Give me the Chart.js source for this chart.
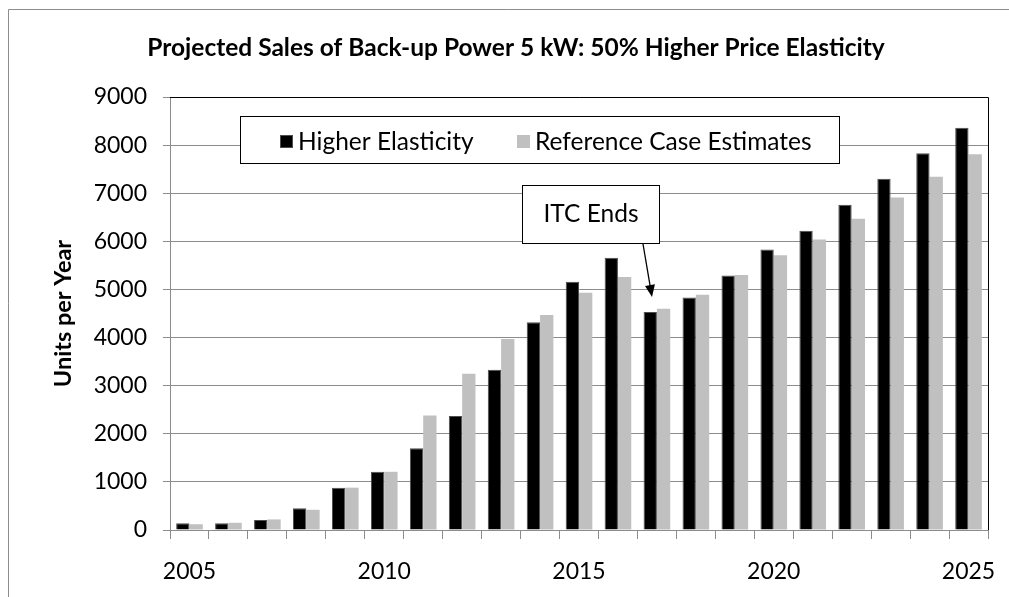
<!DOCTYPE html>
<html>
<head>
  <meta charset="utf-8">
  <title>Projected Sales of Back-up Power 5 kW</title>
  <style>
    body { margin: 0; background: #fff; }
    #salesChart { display: block; }
  </style>
</head>
<body>
<canvas id="salesChart" width="1009" height="597"></canvas>

<script src="https://cdn.jsdelivr.net/npm/chart.js"></script>
<script type="text/javascript">
    // data
    const years = ['2005', '2006', '2007', '2008', '2009', '2010', '2011', '2012', '2013', '2014', '2015',
                   '2016', '2017', '2018', '2019', '2020', '2021', '2022', '2023', '2024', '2025'];
    const higherElasticity = [140, 140, 210, 450, 880, 1210, 1700, 2370, 3330, 4320, 5160,
                              5660, 4530, 4830, 5290, 5830, 6220, 6760, 7300, 7830, 8360];
    const referenceCase = [120, 150, 220, 420, 880, 1210, 2380, 3250, 3970, 4470, 4930,
                           5260, 4600, 4890, 5300, 5710, 6040, 6470, 6910, 7340, 7810];
    const yTicks = [0, 1000, 2000, 3000, 4000, 5000, 6000, 7000, 8000, 9000];

    const titleText = 'Projected Sales of Back-up Power 5 kW: 50% Higher Price Elasticity';
    const noteText = 'ITC Ends';
    const FONT = 'Lato, "Open Sans", sans-serif';

    // title, frame, legend box and the ITC note
    const decorations = {
      id: 'decorations',
      afterDraw(chart) {
        const ctx = chart.ctx;
        const area = chart.chartArea;
        ctx.save();

        // outer frame (top and left edges)
        ctx.strokeStyle = '#8c8c8c';
        ctx.lineWidth = 1;
        ctx.beginPath();
        ctx.moveTo(8.5, 597);
        ctx.lineTo(8.5, 9.5);
        ctx.lineTo(1009, 9.5);
        ctx.stroke();

        // plot area border top / right
        ctx.strokeStyle = '#000';
        ctx.beginPath();
        ctx.moveTo(area.left, Math.round(area.top) + 0.5);
        ctx.lineTo(Math.round(area.right) + 0.5, Math.round(area.top) + 0.5);
        ctx.lineTo(Math.round(area.right) + 0.5, area.bottom);
        ctx.stroke();

        // title
        ctx.fillStyle = '#000';
        ctx.font = 'bold 24.5px ' + FONT;
        ctx.textAlign = 'center';
        ctx.textBaseline = 'middle';
        ctx.fillText(titleText, 516, 48);

        // legend box
        ctx.fillStyle = '#fff';
        ctx.fillRect(240.5, 116.5, 599, 47);
        ctx.strokeStyle = '#000';
        ctx.strokeRect(240.5, 116.5, 599, 47);
        const items = [[280, 298], [517, 535]];
        ctx.font = '24.5px ' + FONT;
        ctx.textAlign = 'left';
        chart.data.datasets.forEach((ds, i) => {
          const [mx, tx] = items[i];
          ctx.fillStyle = ds.backgroundColor;
          ctx.fillRect(mx, 135, 13, 13);
          if (ds.borderWidth) {
            ctx.strokeStyle = ds.borderColor;
            ctx.strokeRect(mx + 0.5, 135.5, 12, 12);
          }
          ctx.fillStyle = '#000';
          ctx.fillText(ds.label, tx, 142);
        });

        // ITC note with arrow
        ctx.fillStyle = '#fff';
        ctx.fillRect(522.5, 185.5, 137, 58);
        ctx.strokeStyle = '#000';
        ctx.strokeRect(522.5, 185.5, 137, 58);
        ctx.fillStyle = '#000';
        ctx.textAlign = 'center';
        ctx.fillText(noteText, 591, 214);

        const x0 = 643, y0 = 244, x1 = 652, y1 = 297;
        const ang = Math.atan2(y1 - y0, x1 - x0);
        ctx.beginPath();
        ctx.moveTo(x0, y0);
        ctx.lineTo(x1 - 10 * Math.cos(ang), y1 - 10 * Math.sin(ang));
        ctx.lineWidth = 1.3;
        ctx.stroke();
        ctx.beginPath();
        ctx.moveTo(x1, y1);
        ctx.lineTo(x1 - 12 * Math.cos(ang) + 5 * Math.sin(ang), y1 - 12 * Math.sin(ang) - 5 * Math.cos(ang));
        ctx.lineTo(x1 - 12 * Math.cos(ang) - 5 * Math.sin(ang), y1 - 12 * Math.sin(ang) + 5 * Math.cos(ang));
        ctx.closePath();
        ctx.fill();

        ctx.restore();
      }
    };

    const data = {
      labels: years,
      datasets: [{
        label: 'Higher Elasticity',
        data: higherElasticity,
        backgroundColor: '#000000',
        borderColor: '#4d4d4d',
        borderWidth: 1
      }, {
        label: 'Reference Case Estimates',
        data: referenceCase,
        backgroundColor: '#c0c0c0',
        borderWidth: 0
      }]
    };

    const config = {
      type: 'bar',
      data: data,
      options: {
        responsive: false,
        animation: false,
        layout: { padding: { top: 97, right: 21, bottom: 0, left: 0 } },
        datasets: { bar: { categoryPercentage: 0.684, barPercentage: 1.0 } },
        plugins: {
          legend: { display: false },
          title: { display: false },
          tooltip: { enabled: false }
        },
        scales: {
          x: {
            grid: { drawOnChartArea: false, color: '#8c8c8c', tickLength: 9, offset: true },
            border: { color: '#8c8c8c' },
            ticks: {
              autoSkip: false,
              maxRotation: 0,
              padding: 19,
              color: '#000',
              font: { family: FONT, size: 23 },
              callback: function(value) {
                const y = years[value];
                return Number(y) % 5 === 0 ? y : '';
              }
            },
            afterFit: function(scale) {
              scale.height = 67;
              // the 2025 label may hang past the plot edge
              scale.paddingLeft = 0;
              scale.paddingRight = 0;
            }
          },
          y: {
            min: 0,
            max: 9000,
            afterBuildTicks: function(scale) { scale.ticks = yTicks.map(v => ({ value: v })); },
            grid: { color: '#8c8c8c', tickLength: 7 },
            border: { color: '#8c8c8c' },
            ticks: {
              padding: 16,
              color: '#000',
              font: { family: FONT, size: 23 },
              callback: function(value) { return String(value); }
            },
            title: {
              display: true,
              text: 'Units per Year',
              color: '#000',
              font: { family: FONT, size: 23.5, weight: 'bold' },
              padding: { top: 49, bottom: 0 }
            },
            afterFit: function(scale) { scale.width = 170; }
          }
        }
      },
      plugins: [decorations]
    };

    const salesChart = new Chart(document.getElementById('salesChart'), config);
</script>
</body>
</html>
